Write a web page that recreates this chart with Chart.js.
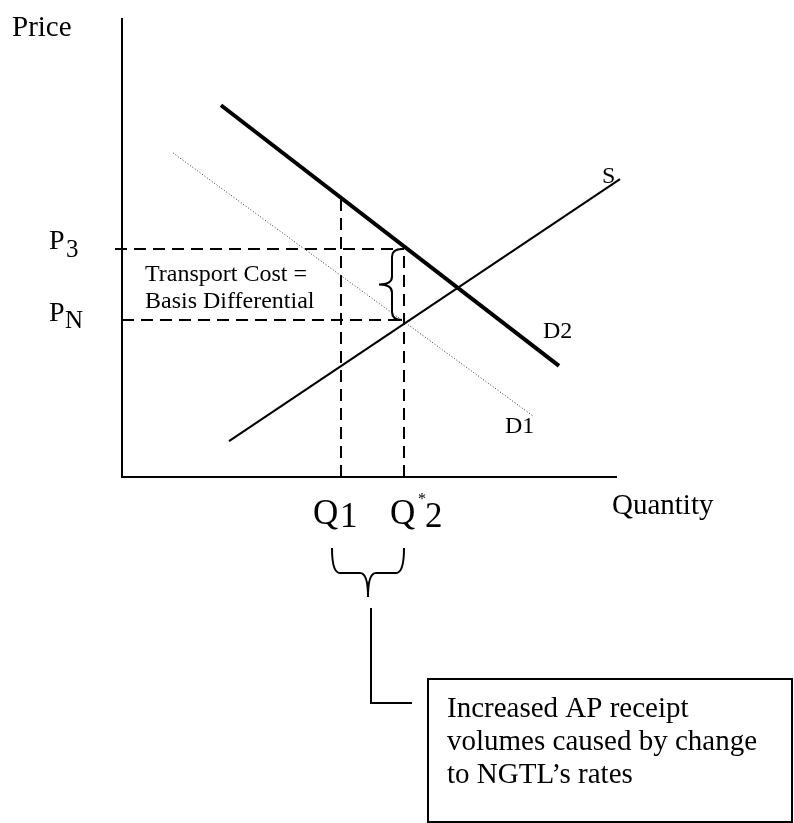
<!DOCTYPE html>
<html lang="en">
<head>
    <meta charset="UTF-8">
    <title>Supply and demand - basis differential</title>
    <script src="https://cdn.jsdelivr.net/npm/chart.js"></script>
    <style>
        body {
        margin: 0;
        padding: 0;
        background-color: #fff;
        }
        canvas {
        display: block;
        }
    </style>
</head>
<body>
    <canvas id="sdChart" width="794" height="823"></canvas>

    <script>
        // values (quantity 0-100, price 0-100)
        const demand2 = [{x: 19.8, y: 81.0}, {x: 87.4, y: 24.2}];
        const demand1 = [{x: 10.2, y: 70.6}, {x: 82.2, y: 13.3}];
        const supply = [{x: 21.4, y: 7.8}, {x: 99.6, y: 64.9}];
        const axisLine = [{x: 0, y: 100}, {x: 0, y: 0}, {x: 99, y: 0}];

        const q1 = 43.8;
        const q2 = 56.4;
        const q1Top = 60.8;
        const p3 = 49.7;
        const pN = 34.2;

        const serif = '"Liberation Serif", "Times New Roman", serif';

        const dashStyle = {
        borderColor: '#000',
        borderWidth: 2,
        borderDash: [12, 7],
        pointRadius: 0,
        showLine: true,
        clip: false
        };

        // braces, labels and the note box
        const annotations = {
        id: 'annotations',
        afterDatasetsDraw(chart) {
            const c = chart.ctx;
            const xs = chart.scales.x, ys = chart.scales.y;
            const xQ1 = xs.getPixelForValue(q1), xQ2 = xs.getPixelForValue(q2);
            const yP3 = ys.getPixelForValue(p3), yPN = ys.getPixelForValue(pN);

            c.save();
            c.fillStyle = '#000';
            c.strokeStyle = '#000';
            c.textBaseline = 'alphabetic';

            // axis titles
            c.font = '29px ' + serif;
            c.fillText('Price', 12, 36);
            c.fillText('Quantity', 612, 514);

            // price labels
            c.font = '28px ' + serif;
            c.fillText('P', 49, yP3);
            c.fillText('P', 49, yPN + 1);
            c.font = '25px ' + serif;
            c.fillText('3', 66, yP3 + 8);
            c.fillText('N', 65, yPN + 8);

            // curve labels
            c.font = '24px ' + serif;
            c.fillText('S', 602, 183);
            c.fillText('D2', 543, 338);
            c.fillText('D1', 505, 433);

            c.fillText('Transport Cost =', 145, 281);
            c.fillText('Basis Differential', 145, 308);

            // quantity labels
            c.font = '35px ' + serif;
            c.fillText('Q', xQ1 - 28, 524);
            c.fillText('1', xQ1 - 1, 527);
            c.fillText('Q', xQ2 - 14, 524);
            c.fillText('2', xQ2 + 21, 527);
            c.font = '16px ' + serif;
            c.fillText('*', xQ2 + 14, 504);

            c.lineWidth = 2;

            // vertical brace between P3 and PN
            const xe = xQ2 - 2, xsp = xQ2 - 12, xt = xQ2 - 25;
            const ym = (yP3 + yPN) / 2, r = 8;
            c.beginPath();
            c.moveTo(xe, yP3);
            c.quadraticCurveTo(xsp, yP3, xsp, yP3 + r);
            c.lineTo(xsp, ym - r);
            c.quadraticCurveTo(xsp, ym, xt, ym);
            c.quadraticCurveTo(xsp, ym, xsp, ym + r);
            c.lineTo(xsp, yPN - r);
            c.quadraticCurveTo(xsp, yPN, xe, yPN);
            c.stroke();

            // horizontal brace under Q1 .. Q*2
            const bx0 = xQ1 - 9, bx1 = xQ2, ye = 548, ysp = 573, yt = 597;
            const bm = 368;
            c.beginPath();
            c.moveTo(bx0, ye);
            c.quadraticCurveTo(bx0, ysp, bx0 + r, ysp);
            c.lineTo(bm - r, ysp);
            c.quadraticCurveTo(bm, ysp, bm, yt);
            c.moveTo(bm, yt);
            c.quadraticCurveTo(bm, ysp, bm + r, ysp);
            c.lineTo(bx1 - r, ysp);
            c.quadraticCurveTo(bx1, ysp, bx1, ye);
            c.stroke();

            // connector to the note
            c.beginPath();
            c.moveTo(371, 608);
            c.lineTo(371, 703);
            c.lineTo(412, 703);
            c.stroke();

            // note box
            c.strokeRect(428, 679, 364, 143);
            c.font = '29px ' + serif;
            c.fillText('Increased AP receipt', 447, 717);
            c.fillText('volumes caused by change', 447, 750);
            c.fillText('to NGTL\u2019s rates', 447, 783);

            c.restore();
        }
        };

        const ctx = document.getElementById('sdChart').getContext('2d');
        const sdChart = new Chart(ctx, {
        type: 'scatter',
        data: {
            datasets: [
            {data: axisLine, borderColor: '#000', borderWidth: 2, pointRadius: 0, showLine: true, clip: false},
            {data: demand1, borderColor: '#333', borderWidth: 1, borderDash: [1, 2], pointRadius: 0, showLine: true},
            {data: supply, borderColor: '#000', borderWidth: 2, pointRadius: 0, showLine: true, clip: false},
            {data: demand2, borderColor: '#000', borderWidth: 4, pointRadius: 0, showLine: true},
            Object.assign({data: [{x: q1, y: 0}, {x: q1, y: q1Top}]}, dashStyle),
            Object.assign({data: [{x: q2, y: 0}, {x: q2, y: p3}]}, dashStyle),
            Object.assign({data: [{x: -1.4, y: p3}, {x: q2, y: p3}]}, dashStyle),
            Object.assign({data: [{x: 0, y: pN}, {x: q2, y: pN}]}, dashStyle)
            ]
        },
        options: {
            responsive: false,
            animation: false,
            layout: {
            padding: {left: 122, right: 172, top: 18, bottom: 346}
            },
            plugins: {
            legend: {display: false},
            tooltip: {enabled: false}
            },
            scales: {
            x: {type: 'linear', min: 0, max: 100, display: false},
            y: {type: 'linear', min: 0, max: 100, display: false}
            }
        },
        plugins: [annotations]
        });
    </script>
</body>
</html>
